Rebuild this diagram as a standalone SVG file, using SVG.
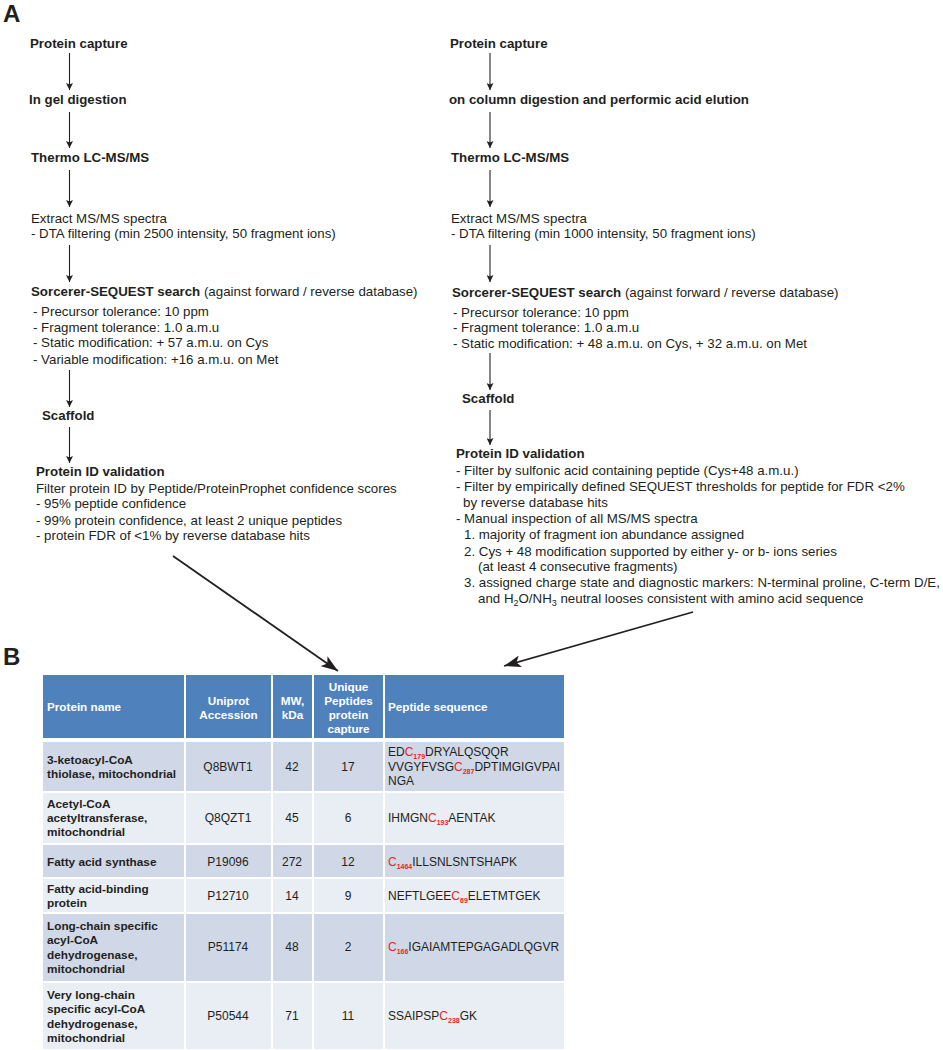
<svg xmlns="http://www.w3.org/2000/svg" width="943" height="1050" viewBox="0 0 943 1050">
<style>
text{font-family:"Liberation Sans",Arial,Helvetica,sans-serif;fill:#231f20}
.b{font-size:13.3px;font-weight:bold}
.r{font-size:13.3px}
.lbl{font-size:24px;font-weight:bold}
.th{font-size:11.7px;font-weight:bold;fill:#fff}
.tb{font-size:11.8px;font-weight:bold}
.tn{font-size:12px;text-anchor:middle}
.tp{font-size:12px}
.red{fill:#ed1c24}
.sub{font-size:7px;font-weight:bold;fill:#ed1c24}
.hd{fill:#4f81bd}
.dk{fill:#d0d8e8}
.lt{fill:#e9edf4}
.conn line{stroke:#231f20;stroke-width:1.1}
.conn line.diag{stroke-width:1.8}
</style>
<defs>
<marker id="ah" markerUnits="userSpaceOnUse" markerWidth="8" markerHeight="7" refX="7" refY="3.5" orient="auto">
<path d="M0,0 L7,3.5 L0,7 L1.5,3.5 z" fill="#231f20"/>
</marker>
<marker id="bh" markerUnits="userSpaceOnUse" markerWidth="18" markerHeight="12" refX="17" refY="6" orient="auto">
<path d="M0,0 L17,6 L0,12 L4,6 z" fill="#231f20"/>
</marker>
</defs>

<text class="lbl" x="3" y="22">A</text>
<text class="lbl" x="3" y="665">B</text>

<g class="conn" id="connectors">
<line x1="69.5" y1="53" x2="69.5" y2="90" marker-end="url(#ah)"/>
<line x1="69.5" y1="112" x2="69.5" y2="148" marker-end="url(#ah)"/>
<line x1="69.5" y1="170" x2="69.5" y2="207" marker-end="url(#ah)"/>
<line x1="69.5" y1="245" x2="69.5" y2="282" marker-end="url(#ah)"/>
<line x1="69.5" y1="370" x2="69.5" y2="407" marker-end="url(#ah)"/>
<line x1="69.5" y1="427" x2="69.5" y2="463" marker-end="url(#ah)"/>
<line x1="490" y1="53" x2="490" y2="90" marker-end="url(#ah)"/>
<line x1="490" y1="112" x2="490" y2="148" marker-end="url(#ah)"/>
<line x1="490" y1="170" x2="490" y2="207" marker-end="url(#ah)"/>
<line x1="490" y1="245" x2="490" y2="282" marker-end="url(#ah)"/>
<line x1="490" y1="353" x2="490" y2="390" marker-end="url(#ah)"/>
<line x1="490" y1="410" x2="490" y2="445" marker-end="url(#ah)"/>
<line class="diag" x1="173" y1="556" x2="338" y2="671" marker-end="url(#bh)"/>
<line class="diag" x1="693" y1="612" x2="504" y2="666" marker-end="url(#bh)"/>
</g>

<g id="left-flow">
<g id="l-capture"><text class="b" x="30" y="48">Protein capture</text></g>
<g id="l-digest"><text class="b" x="29" y="104">In gel digestion</text></g>
<g id="l-lcms"><text class="b" x="31" y="162">Thermo LC-MS/MS</text></g>
<g id="l-extract">
<text class="r" x="31" y="223">Extract MS/MS spectra</text>
<text class="r" x="31" y="238">- DTA filtering (min 2500 intensity, 50 fragment ions)</text>
</g>
<g id="l-sequest">
<text class="r" x="31" y="296"><tspan font-weight="bold">Sorcerer-SEQUEST search</tspan> (against forward / reverse database)</text>
<text class="r" x="33" y="316">- Precursor tolerance: 10 ppm</text>
<text class="r" x="33" y="332">- Fragment tolerance: 1.0 a.m.u</text>
<text class="r" x="33" y="347">- Static modification: + 57 a.m.u. on Cys</text>
<text class="r" x="33" y="364">- Variable modification: +16 a.m.u. on Met</text>
</g>
<g id="l-scaffold"><text class="b" x="42" y="420">Scaffold</text></g>
<g id="l-validation">
<text class="b" x="36" y="476">Protein ID validation</text>
<text class="r" x="36" y="493">Filter protein ID by Peptide/ProteinProphet confidence scores</text>
<text class="r" x="36" y="508">- 95% peptide confidence</text>
<text class="r" x="36" y="525">- 99% protein confidence, at least 2 unique peptides</text>
<text class="r" x="36" y="540">- protein FDR of &lt;1% by reverse database hits</text>
</g>
</g>

<g id="right-flow">
<g id="r-capture"><text class="b" x="450" y="48">Protein capture</text></g>
<g id="r-digest"><text class="b" x="449" y="104">on column digestion and performic acid elution</text></g>
<g id="r-lcms"><text class="b" x="451" y="162">Thermo LC-MS/MS</text></g>
<g id="r-extract">
<text class="r" x="451" y="223">Extract MS/MS spectra</text>
<text class="r" x="451" y="238">- DTA filtering (min 1000 intensity, 50 fragment ions)</text>
</g>
<g id="r-sequest">
<text class="r" x="452" y="297"><tspan font-weight="bold">Sorcerer-SEQUEST search</tspan> (against forward / reverse database)</text>
<text class="r" x="453" y="317">- Precursor tolerance: 10 ppm</text>
<text class="r" x="453" y="332">- Fragment tolerance: 1.0 a.m.u</text>
<text class="r" x="453" y="348">- Static modification: + 48 a.m.u. on Cys, + 32 a.m.u. on Met</text>
</g>
<g id="r-scaffold"><text class="b" x="462" y="403">Scaffold</text></g>
<g id="r-validation">
<text class="b" x="456" y="458">Protein ID validation</text>
<text class="r" x="456" y="475">- Filter by sulfonic acid containing peptide (Cys+48 a.m.u.)</text>
<text class="r" x="456" y="491">- Filter by empirically defined SEQUEST thresholds for peptide for FDR &lt;2%</text>
<text class="r" x="463" y="507">by reverse database hits</text>
<text class="r" x="456" y="523">- Manual inspection of all MS/MS spectra</text>
<text class="r" x="464" y="539">1. majority of fragment ion abundance assigned</text>
<text class="r" x="464" y="556">2. Cys + 48 modification supported by either y- or b- ions series</text>
<text class="r" x="478" y="571">(at least 4 consecutive fragments)</text>
<text class="r" x="464" y="587">3. assigned charge state and diagnostic markers: N-terminal proline, C-term D/E,</text>
<text class="r" x="478" y="603">and H<tspan dy="3" font-size="9">2</tspan><tspan dy="-3">O/NH</tspan><tspan dy="3" font-size="9">3</tspan><tspan dy="-3"> neutral looses consistent with amino acid sequence</tspan></text>
</g>
</g>

<g id="table">
<g id="header">
<rect class="hd" x="43" y="675" width="141" height="63"/>
<rect class="hd" x="186" y="675" width="85" height="63"/>
<rect class="hd" x="273" y="675" width="39" height="63"/>
<rect class="hd" x="314" y="675" width="69" height="63"/>
<rect class="hd" x="385" y="675" width="179" height="63"/>
<text class="th" x="47" y="711">Protein name</text>
<text class="th" x="228.5" y="705" text-anchor="middle">Uniprot</text>
<text class="th" x="228.5" y="719" text-anchor="middle">Accession</text>
<text class="th" x="292.5" y="705" text-anchor="middle">MW,</text>
<text class="th" x="292.5" y="719" text-anchor="middle">kDa</text>
<text class="th" x="348.5" y="691" text-anchor="middle">Unique</text>
<text class="th" x="348.5" y="705" text-anchor="middle">Peptides</text>
<text class="th" x="348.5" y="719" text-anchor="middle">protein</text>
<text class="th" x="348.5" y="733" text-anchor="middle">capture</text>
<text class="th" x="388" y="711">Peptide sequence</text>
</g>
<g id="row1">
<rect class="dk" x="43" y="742" width="141" height="49"/>
<rect class="dk" x="186" y="742" width="85" height="49"/>
<rect class="dk" x="273" y="742" width="39" height="49"/>
<rect class="dk" x="314" y="742" width="69" height="49"/>
<rect class="dk" x="385" y="742" width="179" height="49"/>
<text class="tb" x="47" y="764">3-ketoacyl-CoA</text>
<text class="tb" x="47" y="778">thiolase, mitochondrial</text>
<text class="tn" x="228" y="771">Q8BWT1</text>
<text class="tn" x="292" y="771">42</text>
<text class="tn" x="348" y="771">17</text>
<text class="tp" x="388" y="756">ED<tspan class="red">C</tspan><tspan class="sub" dy="2.5">179</tspan><tspan dy="-2.5">DRYALQSQQR</tspan></text>
<text class="tp" x="388" y="771">VVGYFVSG<tspan class="red">C</tspan><tspan class="sub" dy="2.5">287</tspan><tspan dy="-2.5">DPTIMGIGVPAI</tspan></text>
<text class="tp" x="388" y="785">NGA</text>
</g>
<g id="row2">
<rect class="lt" x="43" y="793" width="141" height="50"/>
<rect class="lt" x="186" y="793" width="85" height="50"/>
<rect class="lt" x="273" y="793" width="39" height="50"/>
<rect class="lt" x="314" y="793" width="69" height="50"/>
<rect class="lt" x="385" y="793" width="179" height="50"/>
<text class="tb" x="47" y="808">Acetyl-CoA</text>
<text class="tb" x="47" y="822">acetyltransferase,</text>
<text class="tb" x="47" y="836">mitochondrial</text>
<text class="tn" x="228" y="822">Q8QZT1</text>
<text class="tn" x="292" y="822">45</text>
<text class="tn" x="348" y="822">6</text>
<text class="tp" x="388" y="822">IHMGN<tspan class="red">C</tspan><tspan class="sub" dy="2.5">193</tspan><tspan dy="-2.5">AENTAK</tspan></text>
</g>
<g id="row3">
<rect class="dk" x="43" y="845" width="141" height="32"/>
<rect class="dk" x="186" y="845" width="85" height="32"/>
<rect class="dk" x="273" y="845" width="39" height="32"/>
<rect class="dk" x="314" y="845" width="69" height="32"/>
<rect class="dk" x="385" y="845" width="179" height="32"/>
<text class="tb" x="47" y="866">Fatty acid synthase</text>
<text class="tn" x="228" y="866">P19096</text>
<text class="tn" x="292" y="866">272</text>
<text class="tn" x="348" y="866">12</text>
<text class="tp" x="388" y="866"><tspan class="red">C</tspan><tspan class="sub" dy="2.5">1464</tspan><tspan dy="-2.5">ILLSNLSNTSHAPK</tspan></text>
</g>
<g id="row4">
<rect class="lt" x="43" y="879" width="141" height="33"/>
<rect class="lt" x="186" y="879" width="85" height="33"/>
<rect class="lt" x="273" y="879" width="39" height="33"/>
<rect class="lt" x="314" y="879" width="69" height="33"/>
<rect class="lt" x="385" y="879" width="179" height="33"/>
<text class="tb" x="47" y="893">Fatty acid-binding</text>
<text class="tb" x="47" y="907">protein</text>
<text class="tn" x="228" y="900">P12710</text>
<text class="tn" x="292" y="900">14</text>
<text class="tn" x="348" y="900">9</text>
<text class="tp" x="388" y="900">NEFTLGEE<tspan class="red">C</tspan><tspan class="sub" dy="2.5">69</tspan><tspan dy="-2.5">ELETMTGEK</tspan></text>
</g>
<g id="row5">
<rect class="dk" x="43" y="914" width="141" height="67"/>
<rect class="dk" x="186" y="914" width="85" height="67"/>
<rect class="dk" x="273" y="914" width="39" height="67"/>
<rect class="dk" x="314" y="914" width="69" height="67"/>
<rect class="dk" x="385" y="914" width="179" height="67"/>
<text class="tb" x="47" y="930">Long-chain specific</text>
<text class="tb" x="47" y="944">acyl-CoA</text>
<text class="tb" x="47" y="959">dehydrogenase,</text>
<text class="tb" x="47" y="973">mitochondrial</text>
<text class="tn" x="228" y="951">P51174</text>
<text class="tn" x="292" y="951">48</text>
<text class="tn" x="348" y="951">2</text>
<text class="tp" x="388" y="951"><tspan class="red">C</tspan><tspan class="sub" dy="2.5">166</tspan><tspan dy="-2.5">IGAIAMTEPGAGADLQGVR</tspan></text>
</g>
<g id="row6">
<rect class="lt" x="43" y="983" width="141" height="66"/>
<rect class="lt" x="186" y="983" width="85" height="66"/>
<rect class="lt" x="273" y="983" width="39" height="66"/>
<rect class="lt" x="314" y="983" width="69" height="66"/>
<rect class="lt" x="385" y="983" width="179" height="66"/>
<text class="tb" x="47" y="999">Very long-chain</text>
<text class="tb" x="47" y="1013">specific acyl-CoA</text>
<text class="tb" x="47" y="1028">dehydrogenase,</text>
<text class="tb" x="47" y="1042">mitochondrial</text>
<text class="tn" x="228" y="1020">P50544</text>
<text class="tn" x="292" y="1020">71</text>
<text class="tn" x="348" y="1020">11</text>
<text class="tp" x="388" y="1020">SSAIPSP<tspan class="red">C</tspan><tspan class="sub" dy="2.5">238</tspan><tspan dy="-2.5">GK</tspan></text>
</g>
</g>
</svg>
